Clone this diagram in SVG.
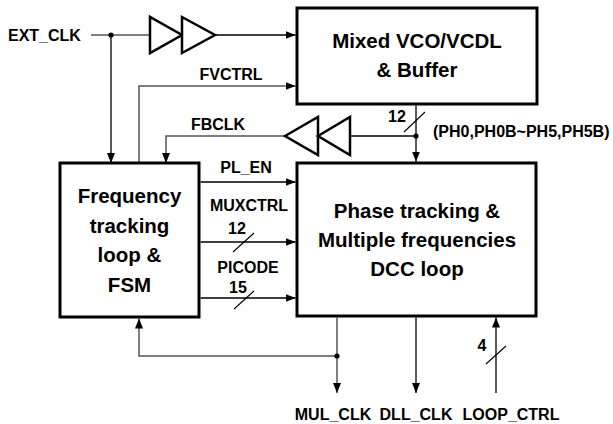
<svg xmlns="http://www.w3.org/2000/svg" width="613" height="424" viewBox="0 0 613 424">
<style>
.box{fill:#fff;stroke:#000;stroke-width:3}
.buf{fill:#fff;stroke:#000;stroke-width:2.5;stroke-linejoin:miter}
.w{fill:none;stroke:#000;stroke-width:1.3}
.g{fill:none;stroke:#555;stroke-width:1.5}
.sl{fill:none;stroke:#000;stroke-width:1.1}
.big{font-family:"Liberation Sans",Arial,sans-serif;font-weight:bold;font-size:20.5px;text-anchor:middle;fill:#000}
.lbl{font-family:"Liberation Sans",Arial,sans-serif;font-weight:bold;font-size:16px;fill:#000}
.c{text-anchor:middle}
</style>
<defs>
<marker id="ah" viewBox="0 0 10 8" refX="10" refY="4" markerWidth="10" markerHeight="8" markerUnits="userSpaceOnUse" orient="auto">
<path d="M0,0 L10,4 L0,8 z" fill="#000"/>
</marker>
</defs>

<g id="connectors">
<path class="g" d="M91,35 H150"/>
<path class="w" d="M111,35 V163" marker-end="url(#ah)"/>
<path class="w" d="M215,35 H295.5" marker-end="url(#ah)"/>
<circle cx="111" cy="35" r="2.6" fill="#000"/>
<path class="g" d="M139,163 V86 H295.5" marker-end="url(#ah)"/>
<path class="g" d="M285,136 H166 V163" marker-end="url(#ah)"/>
<path class="w" d="M416,105.5 V161.5" marker-end="url(#ah)"/>
<path class="w" d="M350,136 H416"/>
<circle cx="416" cy="136" r="2.6" fill="#000"/>
<path class="sl" d="M404,132 L425,112"/>
<path class="w" d="M200.5,182 H295.5" marker-end="url(#ah)"/>
<path class="w" d="M200.5,242 H295.5" marker-end="url(#ah)"/>
<path class="sl" d="M233,252 L254,233"/>
<path class="w" d="M200.5,298 H295.5" marker-end="url(#ah)"/>
<path class="sl" d="M234,309 L254,291"/>
<path class="g" d="M337,317.5 V393" marker-end="url(#ah)"/>
<path class="g" d="M337,356 H139 V318.5" marker-end="url(#ah)"/>
<circle cx="337" cy="356" r="2.6" fill="#000"/>
<path class="w" d="M416,317.5 V393" marker-end="url(#ah)"/>
<path class="w" d="M496,393 V317.5" marker-end="url(#ah)"/>
<path class="sl" d="M486,364 L506,346"/>
</g>

<g id="buffers">
<polygon class="buf" points="150,17 150,53 182,35"/>
<polygon class="buf" points="182,17 182,53 215,35"/>
</g>
<g id="inverters">
<polygon class="buf" points="285,136 318,117 318,155"/>
<polygon class="buf" points="318,136 350,117 350,155"/>
</g>

<g id="vco">
<rect class="box" x="297" y="8" width="240" height="96"/>
<text class="big" x="417" y="48">Mixed VCO/VCDL</text>
<text class="big" x="417" y="77">&amp; Buffer</text>
</g>

<g id="fsm">
<rect class="box" x="60" y="163" width="139" height="154"/>
<text class="big" x="129.5" y="203">Frequency</text>
<text class="big" x="129.5" y="233">tracking</text>
<text class="big" x="129.5" y="262">loop &amp;</text>
<text class="big" x="129.5" y="292">FSM</text>
</g>

<g id="phase">
<rect class="box" x="297" y="163" width="239" height="153"/>
<text class="big" x="417" y="218">Phase tracking &amp;</text>
<text class="big" x="417" y="247">Multiple frequencies</text>
<text class="big" x="417" y="276">DCC loop</text>
</g>

<g id="labels">
<text class="lbl" x="8" y="41">EXT_CLK</text>
<text class="lbl c" x="231" y="80">FVCTRL</text>
<text class="lbl c" x="218" y="130">FBCLK</text>
<text class="lbl c" x="397" y="122">12</text>
<text class="lbl" x="433" y="137">(PH0,PH0B~PH5,PH5B)</text>
<text class="lbl c" x="246" y="173">PL_EN</text>
<text class="lbl c" x="249" y="211">MUXCTRL</text>
<text class="lbl c" x="237" y="234">12</text>
<text class="lbl c" x="248" y="273">PICODE</text>
<text class="lbl c" x="238" y="293">15</text>
<text class="lbl c" x="482" y="351">4</text>
<text class="lbl c" x="333" y="420">MUL_CLK</text>
<text class="lbl c" x="416" y="420">DLL_CLK</text>
<text class="lbl c" x="511" y="420">LOOP_CTRL</text>
</g>
</svg>
